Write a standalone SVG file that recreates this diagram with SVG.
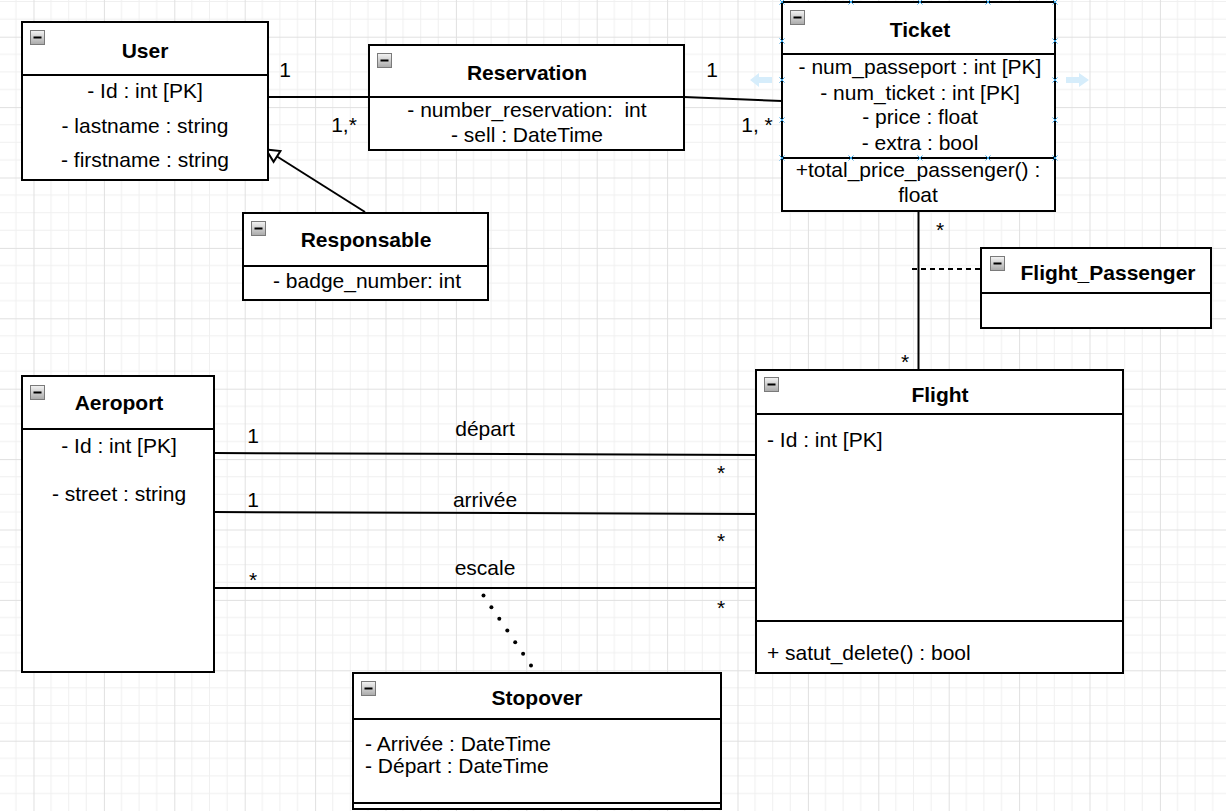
<svg xmlns="http://www.w3.org/2000/svg" width="1226" height="811" viewBox="0 0 1226 811">
<style>
.box{fill:#fff;stroke:#000;stroke-width:2}
.div{stroke:#000;stroke-width:2;fill:none}
.t{font-family:"Liberation Sans",Arial,sans-serif;font-size:21px;fill:#000}
.b{font-weight:bold}
.m{text-anchor:middle}
.conn{stroke:#000;stroke-width:2;fill:none}
.dot{fill:#000}
.x{stroke:#3aa3e3;stroke-width:1}
.hint{fill:#d6edfb}
</style>
<defs>
<pattern id="grid" patternUnits="userSpaceOnUse" x="33.5" y="36.7" width="70.4" height="70.4">
<path d="M17.6 0V70.4M35.2 0V70.4M52.8 0V70.4M0 17.6H70.4M0 35.2H70.4M0 52.8H70.4" stroke="#f0f0f0" stroke-width="1" fill="none"/>
<path d="M0.5 0V70.4M0 0.5H70.4" stroke="#e0e0e0" stroke-width="1" fill="none"/>
</pattern>
<linearGradient id="ig" x1="0" y1="0" x2="0" y2="1">
<stop offset="0" stop-color="#f4f4f4"/>
<stop offset="1" stop-color="#a9a9a9"/>
</linearGradient>
<g id="collapse">
<rect x="0.5" y="0.5" width="14" height="14" fill="url(#ig)" stroke="#7a7a7a" stroke-width="1"/>
<rect x="3.5" y="6.5" width="8" height="2" fill="#000"/>
</g>
<marker id="inh" markerUnits="userSpaceOnUse" viewBox="-15 -8 17 16" refX="0" refY="0" markerWidth="17" markerHeight="16" orient="auto">
<path d="M0 0L-13 -6.4L-13 6.4Z" fill="#fff" stroke="#000" stroke-width="2" stroke-linejoin="miter"/>
</marker>
<g id="xm"><path d="M-2.5 -2.5L2.5 2.5M-2.5 2.5L2.5 -2.5" class="x"/></g>
</defs>
<rect width="1226" height="811" fill="#fff"/>
<rect width="1226" height="811" fill="url(#grid)"/>

<g id="connectors">
<line class="conn" x1="268" y1="97" x2="369" y2="97"/>
<line class="conn" x1="684" y1="97" x2="782" y2="101"/>
<line class="conn" x1="365" y1="212" x2="266" y2="149.5" marker-end="url(#inh)"/>
<line class="conn" x1="918.5" y1="211" x2="918.5" y2="370"/>
<line class="conn" x1="912" y1="269" x2="981" y2="269" stroke-dasharray="5 4"/>
<line class="conn" x1="214" y1="453" x2="756" y2="455"/>
<line class="conn" x1="214" y1="512" x2="756" y2="514"/>
<line class="conn" x1="211" y1="588" x2="756" y2="588"/>
<g id="stopover-link">
<circle class="dot" cx="483.5" cy="595.5" r="2"/>
<circle class="dot" cx="491.4" cy="607.2" r="2"/>
<circle class="dot" cx="499.3" cy="618.8" r="2"/>
<circle class="dot" cx="507.3" cy="630.5" r="2"/>
<circle class="dot" cx="515.2" cy="642.2" r="2"/>
<circle class="dot" cx="523.1" cy="653.8" r="2"/>
<circle class="dot" cx="531" cy="665.5" r="2"/>
</g>
<text class="t m" x="285" y="77">1</text>
<text class="t m" x="344" y="132">1,*</text>
<text class="t m" x="712" y="77">1</text>
<text class="t m" x="757" y="132">1, *</text>
<text class="t m" x="940" y="237">*</text>
<text class="t m" x="905" y="369">*</text>
<text class="t m" x="253" y="443">1</text>
<text class="t m" x="485" y="436">départ</text>
<text class="t m" x="721" y="480">*</text>
<text class="t m" x="253" y="507">1</text>
<text class="t m" x="485" y="507">arrivée</text>
<text class="t m" x="721" y="548">*</text>
<text class="t m" x="253" y="587">*</text>
<text class="t m" x="485" y="575">escale</text>
<text class="t m" x="721" y="615">*</text>
</g>

<g id="user">
<rect class="box" x="22" y="22" width="246" height="158"/>
<line class="div" x1="22" y1="75" x2="268" y2="75"/>
<use href="#collapse" x="30" y="30"/>
<text class="t b m" x="145" y="58">User</text>
<text class="t m" x="145" y="98">- Id : int [PK]</text>
<text class="t m" x="145" y="133">- lastname : string</text>
<text class="t m" x="145" y="167">- firstname : string</text>
</g>

<g id="reservation">
<rect class="box" x="369" y="45" width="315" height="105"/>
<line class="div" x1="369" y1="97" x2="684" y2="97"/>
<use href="#collapse" x="377" y="53"/>
<text class="t b m" x="527" y="80">Reservation</text>
<text class="t m" x="527" y="117" style="white-space:pre">- number_reservation:  int</text>
<text class="t m" x="527" y="142">- sell : DateTime</text>
</g>

<g id="ticket">
<rect class="box" x="782" y="2" width="273" height="209"/>
<line class="div" x1="782" y1="54" x2="1055" y2="54"/>
<line class="div" x1="782" y1="158" x2="1055" y2="158"/>
<use href="#collapse" x="790" y="10"/>
<text class="t b m" x="920" y="37">Ticket</text>
<text class="t m" x="920" y="74">- num_passeport : int [PK]</text>
<text class="t m" x="920" y="100">- num_ticket : int [PK]</text>
<text class="t m" x="920" y="124">- price : float</text>
<text class="t m" x="920" y="150">- extra : bool</text>
<text class="t m" x="918" y="177">+total_price_passenger() :</text>
<text class="t m" x="918" y="202">float</text>
<g id="ticket-handles">
<use href="#xm" x="782" y="2"/><use href="#xm" x="851" y="2"/><use href="#xm" x="920" y="2"/><use href="#xm" x="988" y="2"/><use href="#xm" x="1055" y="2"/>
<use href="#xm" x="782" y="41"/><use href="#xm" x="782" y="80"/><use href="#xm" x="782" y="120"/><use href="#xm" x="782" y="158"/>
<use href="#xm" x="1055" y="41"/><use href="#xm" x="1055" y="80"/><use href="#xm" x="1055" y="120"/><use href="#xm" x="1055" y="158"/>
<use href="#xm" x="851" y="158"/><use href="#xm" x="920" y="158"/><use href="#xm" x="988" y="158"/>
<polygon class="hint" points="772,77 759,77 759,73 750,80 759,87 759,83 772,83"/>
<polygon class="hint" points="1066,77 1079,77 1079,73 1089,80 1079,87 1079,83 1066,83"/>
</g>
</g>

<g id="responsable">
<rect class="box" x="243" y="213" width="245" height="87"/>
<line class="div" x1="243" y1="266" x2="488" y2="266"/>
<use href="#collapse" x="251" y="221"/>
<text class="t b m" x="366" y="247">Responsable</text>
<text class="t m" x="367" y="288">- badge_number: int</text>
</g>

<g id="flight_passenger">
<rect class="box" x="981" y="248" width="230" height="80"/>
<line class="div" x1="981" y1="293" x2="1211" y2="293"/>
<use href="#collapse" x="990" y="256"/>
<text class="t b m" x="1108" y="280">Flight_Passenger</text>
</g>

<g id="flight">
<rect class="box" x="756" y="370" width="367" height="303"/>
<line class="div" x1="756" y1="414" x2="1123" y2="414"/>
<line class="div" x1="756" y1="621" x2="1123" y2="621"/>
<use href="#collapse" x="764" y="377"/>
<text class="t b m" x="940" y="402">Flight</text>
<text class="t" x="767" y="447">- Id : int [PK]</text>
<text class="t" x="767" y="660">+ satut_delete() : bool</text>
</g>

<g id="aeroport">
<rect class="box" x="22" y="376" width="192" height="296"/>
<line class="div" x1="22" y1="429" x2="214" y2="429"/>
<use href="#collapse" x="30" y="385"/>
<text class="t b m" x="119" y="410">Aeroport</text>
<text class="t m" x="119" y="453">- Id : int [PK]</text>
<text class="t m" x="119" y="501">- street : string</text>
</g>

<g id="stopover">
<rect class="box" x="353" y="673" width="368" height="136"/>
<line class="div" x1="353" y1="719" x2="721" y2="719"/>
<line class="div" x1="353" y1="803" x2="721" y2="803"/>
<use href="#collapse" x="361" y="681"/>
<text class="t b m" x="537" y="705">Stopover</text>
<text class="t" x="365" y="751">- Arrivée : DateTime</text>
<text class="t" x="365" y="773">- Départ : DateTime</text>
</g>
</svg>
